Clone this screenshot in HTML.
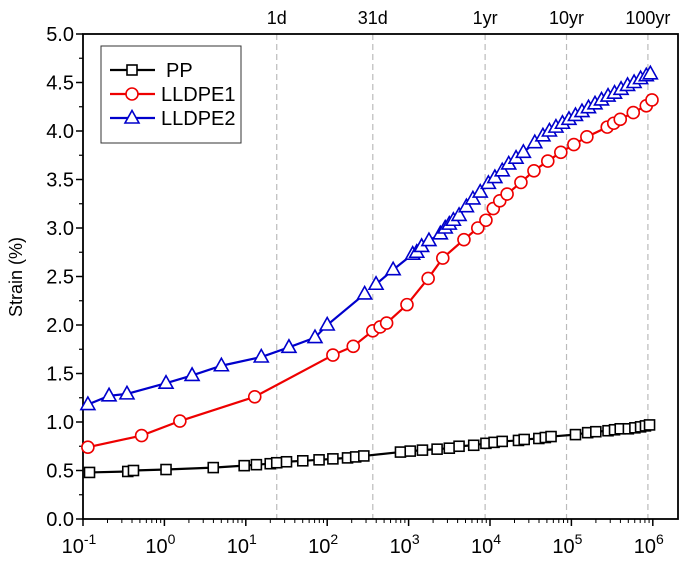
<!DOCTYPE html>
<html><head><meta charset="utf-8"><style>body{margin:0;background:#fff}svg{display:block;font-family:"Liberation Sans Narrow","Liberation Sans",sans-serif}</style></head>
<body>
<svg id="c" width="685" height="564"></svg>
<script>
const ppX=[-0.92,-0.45,-0.38,0.02,0.6,0.98,1.13,1.3,1.38,1.5,1.7,1.9,2.07,2.25,2.35,2.45,2.9,3.02,3.17,3.35,3.5,3.62,3.8,3.95,4.05,4.15,4.35,4.42,4.6,4.68,4.75,5.05,5.2,5.3,5.45,5.53,5.6,5.7,5.78,5.85,5.91,5.96];
const ppY=[0.48,0.49,0.50,0.51,0.53,0.55,0.56,0.57,0.58,0.59,0.60,0.61,0.62,0.63,0.64,0.65,0.69,0.70,0.71,0.72,0.73,0.75,0.76,0.78,0.79,0.80,0.81,0.82,0.83,0.84,0.85,0.87,0.89,0.90,0.91,0.92,0.93,0.93,0.94,0.95,0.96,0.97];
const l1X=[-0.94,-0.28,0.19,1.11,2.07,2.32,2.56,2.65,2.73,2.98,3.24,3.42,3.68,3.85,3.95,4.04,4.12,4.21,4.38,4.54,4.71,4.87,5.03,5.19,5.44,5.52,5.60,5.76,5.92,5.99];
const l1Y=[0.74,0.86,1.01,1.26,1.69,1.78,1.94,1.98,2.02,2.21,2.48,2.69,2.88,3.0,3.08,3.2,3.28,3.35,3.47,3.59,3.69,3.78,3.86,3.94,4.04,4.08,4.12,4.19,4.26,4.32];
const l2X=[-0.94,-0.68,-0.46,0.02,0.34,0.70,1.19,1.53,1.85,2.0,2.46,2.60,2.81,3.05,3.10,3.16,3.25,3.39,3.45,3.50,3.55,3.62,3.71,3.79,3.88,3.98,4.06,4.15,4.23,4.32,4.41,4.55,4.65,4.73,4.81,4.89,4.97,5.05,5.13,5.21,5.29,5.37,5.45,5.53,5.61,5.69,5.77,5.85,5.92,5.97];
const l2Y=[1.18,1.27,1.29,1.40,1.48,1.58,1.67,1.77,1.87,2.0,2.32,2.42,2.57,2.73,2.75,2.81,2.87,2.94,3.0,3.04,3.08,3.13,3.22,3.30,3.37,3.46,3.52,3.59,3.66,3.72,3.78,3.88,3.95,4.0,4.04,4.08,4.12,4.16,4.2,4.24,4.28,4.32,4.36,4.39,4.43,4.47,4.5,4.54,4.57,4.59];
const l2Gap=10;
const yTicks=[0,0.5,1,1.5,2,2.5,3,3.5,4,4.5,5];
const xDecades=[-1,0,1,2,3,4,5,6];
const topLabels=["1d","31d","1yr","10yr","100yr"];
const topPos=[1.38,2.56,3.94,4.94,5.94];

const L=83,R=678,T=34,B=519;
const X=v=>L+(v+1)*81.4, Y=v=>B-(v/5)*(B-T);
const s=document.getElementById('c'),NS='http://www.w3.org/2000/svg';
function mk(t,a,p){const e=document.createElementNS(NS,t);for(const k in a)e.setAttribute(k,a[k]);(p||s).appendChild(e);return e;}
topPos.forEach((p,i)=>{
 const l=mk('line',{x1:X(p),x2:X(p),y1:T,y2:B,stroke:'#bbb','stroke-dasharray':'6,4','stroke-width':1.2});
 
 
 const t=mk('text',{x:X(p),y:24,'text-anchor':'middle','font-size':18});t.textContent=topLabels[i];
 
 
});
const fr=mk('rect',{x:L,y:T,width:R-L,height:B-T,fill:'none',stroke:'#000','stroke-width':1.8});


yTicks.forEach((v,i)=>{
 mk('line',{x1:L-7,x2:L,y1:Y(v),y2:Y(v),stroke:'#000','stroke-width':1.5});
 if(i<yTicks.length-1)mk('line',{x1:L-4,x2:L,y1:Y(v+0.25),y2:Y(v+0.25),stroke:'#000','stroke-width':1.2});
 const t=mk('text',{x:L-9,y:Y(v)+7,'text-anchor':'end','font-size':20});t.textContent=v.toFixed(1);
 
 
});
xDecades.forEach(d=>{
 mk('line',{x1:X(d),x2:X(d),y1:B,y2:B+7,stroke:'#000','stroke-width':1.5});
 if(d<6)for(let m=2;m<10;m++){const x=X(d+Math.log10(m));mk('line',{x1:x,x2:x,y1:B,y2:B+4,stroke:'#000','stroke-width':1});}
 const t=mk('text',{x:X(d)-4,y:553,'text-anchor':'middle','font-size':20});t.textContent='10';
 const sp=mk('tspan',{dy:-9,'font-size':14},t);sp.textContent=String(d);
 
 
});
const yl=mk('text',{x:22,y:277,'text-anchor':'middle','font-size':18,transform:'rotate(-90 22 277)'});yl.textContent='Strain (%)';


function marker(type,x,y,c,g){
 if(type==='sq')return mk('rect',{x:x-5,y:y-5,width:10,height:10,fill:'#fff',stroke:c,'stroke-width':1.6},g);
 if(type==='ci')return mk('circle',{cx:x,cy:y,r:6,fill:'#fff',stroke:c,'stroke-width':1.6},g);
 return mk('polygon',{points:`${x},${y-7.5} ${x-7},${y+5} ${x+7},${y+5}`,fill:'#fff',stroke:c,'stroke-width':1.6},g);
}
function series(xs,ys,c,type,name,gap){
 const g=mk('g',{});
 
 
 const pts=xs.map((v,i)=>X(v)+','+Y(ys[i]));
 if(gap){mk('polyline',{points:pts.slice(0,gap+1).join(' '),fill:'none',stroke:c,'stroke-width':2.2},g);
  mk('polyline',{points:pts.slice(gap+1).join(' '),fill:'none',stroke:c,'stroke-width':2.2},g);}
 else mk('polyline',{points:pts.join(' '),fill:'none',stroke:c,'stroke-width':2.2},g);
 xs.forEach((v,i)=>marker(type,X(v),Y(ys[i]),c,g));
}
series(ppX,ppY,'#000','sq','pp-series');
series(l1X,l1Y,'#e00','ci','lldpe1-series');
series(l2X,l2Y,'#00c','tr','lldpe2-series',l2Gap);
const lg=mk('g',{});


mk('rect',{x:101,y:46,width:140,height:97,fill:'#fff',stroke:'#333','stroke-width':1},lg);
[['PP','#000','sq'],['LLDPE1','#e00','ci'],['LLDPE2','#00c','tr']].forEach((e,i)=>{
 const y=70+i*24;
 mk('line',{x1:110,x2:155,y1:y,y2:y,stroke:e[1],'stroke-width':2.2},lg);
 marker(e[2],132,y,e[1],lg);
 const t=mk('text',{x:e[0]==='PP'?166:161,y:y+7,'font-size':20},lg);t.textContent=e[0];
 
 
});
</script>
</body></html>
